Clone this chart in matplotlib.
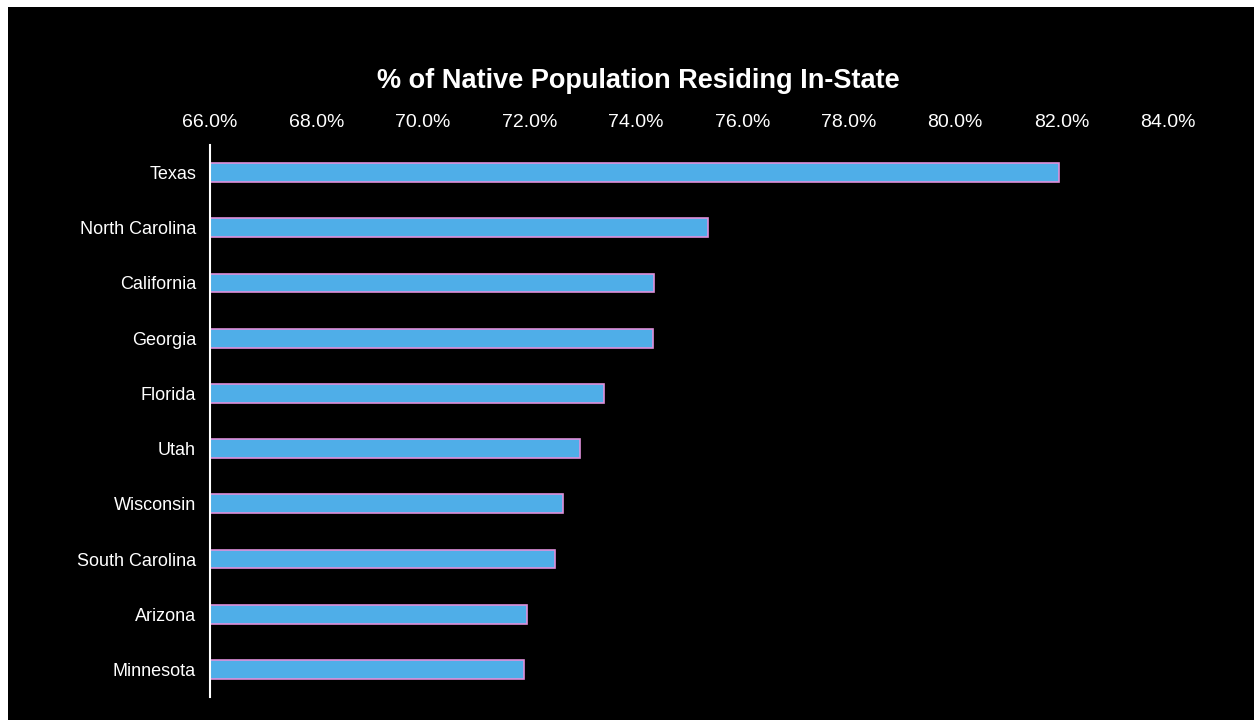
import matplotlib
matplotlib.use("Agg")
import matplotlib.pyplot as plt
from matplotlib.patches import Rectangle
from matplotlib.ticker import FuncFormatter

states = ["Texas", "North Carolina", "California", "Georgia", "Florida",
          "Utah", "Wisconsin", "South Carolina", "Arizona", "Minnesota"]
pct = [81.96, 75.36, 74.35, 74.33, 73.41, 72.95, 72.64, 72.48, 71.96, 71.90]
xticks = [66, 68, 70, 72, 74, 76, 78, 80, 82, 84]

plt.rcParams['font.family'] = ['Liberation Sans', 'DejaVu Sans']

fig = plt.figure(figsize=(12.54, 7.2), dpi=100, facecolor='white')
# black panel with thin white margin top/left
fig.patches.append(Rectangle((8 / 1254, 0), 1 - 8 / 1254, 713 / 720,
                             transform=fig.transFigure, facecolor='black',
                             edgecolor='none', zorder=-5))

ax = fig.add_axes([210 / 1254, 23 / 720, (1168 - 210) / 1254, (697 - 145) / 720])
ax.set_facecolor('black')

y = list(range(len(states)))
ax.barh(y, [p - 66 for p in pct], left=66, height=0.34,
        color='#4FAEE8', edgecolor='#DE90DA', linewidth=1.2)

ax.set_xlim(66, 84)
ax.set_ylim(len(states) - 0.5, -0.5)
ax.set_yticks(y)
ax.set_yticklabels(states, fontsize=13, color='white')
ax.set_xticks(xticks)
ax.xaxis.set_major_formatter(FuncFormatter(lambda v, _: f"{v:.1f}%"))
ax.xaxis.tick_top()
ax.tick_params(axis='x', length=0, labelsize=14, labelcolor='white', pad=10)
ax.tick_params(axis='y', length=0, pad=10)

for s in ['top', 'right', 'bottom']:
    ax.spines[s].set_visible(False)
ax.spines['left'].set_color('white')
ax.spines['left'].set_linewidth(1.5)

fig.text(638 / 1254, 1 - 81 / 720, "% of Native Population Residing In-State",
         ha='center', va='center', color='white', fontsize=19.5, fontweight='bold')

fig.savefig("out.png", dpi=100, facecolor=fig.get_facecolor())
